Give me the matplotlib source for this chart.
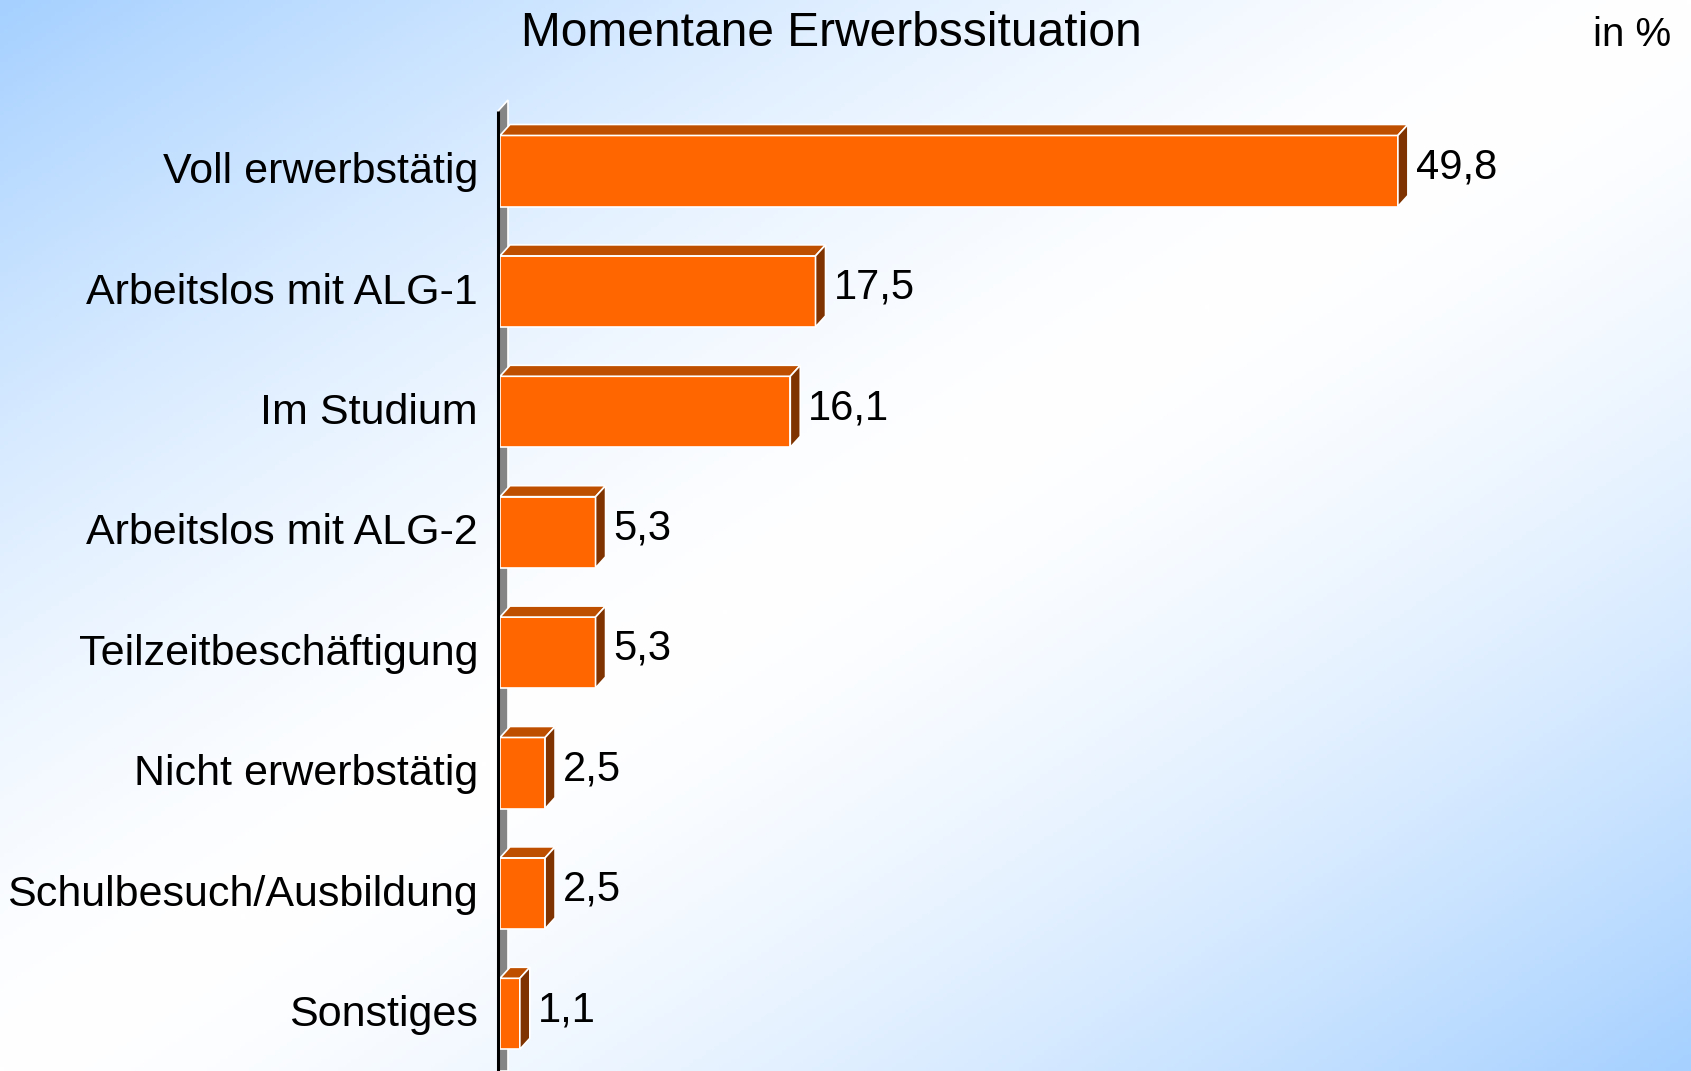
import numpy as np
import matplotlib.pyplot as plt
from matplotlib.patches import Polygon

# 데이터
categories = ["Voll erwerbstätig", "Arbeitslos mit ALG-1", "Im Studium", "Arbeitslos mit ALG-2",
              "Teilzeitbeschäftigung", "Nicht erwerbstätig", "Schulbesuch/Ausbildung", "Sonstiges"]
values = [49.8, 17.5, 16.1, 5.3, 5.3, 2.5, 2.5, 1.1]
title = "Momentane Erwerbssituation"
unit_label = "in %"

plt.rcParams['font.family'] = ['Liberation Sans', 'DejaVu Sans']

W, H = 1691, 1071
fig = plt.figure(figsize=(W / 100, H / 100), dpi=100)

# 배경 그라데이션 (왼쪽 위 / 오른쪽 아래는 파란색, 대각선은 흰색)
ax_bg = fig.add_axes([0, 0, 1, 1])
xx, yy = np.meshgrid(np.linspace(0, 1, 400), np.linspace(0, 1, 260))
t = np.abs(xx + yy - 1) ** 1.5
blue = np.array([165, 208, 255]) / 255
white = np.array([255, 255, 255]) / 255
img = white[None, None, :] * (1 - t[..., None]) + blue[None, None, :] * t[..., None]
ax_bg.imshow(img, aspect='auto', extent=[0, 1, 1, 0])
ax_bg.axis('off')

# 메인 축: x = 값, y = 카테고리 번호
px_per_unit = 18.03
x0_px = 500
row_px = 120.4
first_px = 171
ax = fig.add_axes([x0_px / W, 0, (W - x0_px) / W, 1])
ax.set_xlim(0, (W - x0_px) / px_per_unit)
ax.set_ylim((H - first_px) / row_px, -first_px / row_px)
ax.axis('off')
ax.patch.set_alpha(0)

dx = 10 / px_per_unit
dy = 11 / row_px
half = 0.295

# 뒤쪽 벽 (회색) + 검은 축선
wx = -2 / px_per_unit
wall_top = (111 - first_px) / row_px
ylo = (H - first_px) / row_px
wall = Polygon([(wx, ylo), (wx, wall_top), (wx + dx, wall_top - dy), (wx + dx, ylo)],
               closed=True, facecolor='#858585', edgecolor='white', lw=1.2, zorder=1, clip_on=False)
ax.add_patch(wall)
ax.plot([wx, wx], [wall_top, ylo], color='black', lw=2.2, zorder=2,
        solid_capstyle='butt', clip_on=False)

# 3D 막대
for i, (cat, v) in enumerate(zip(categories, values)):
    top, bot = i - half, i + half
    front = Polygon([(0, top), (v, top), (v, bot), (0, bot)], closed=True,
                    facecolor='#FF6600', edgecolor='white', lw=1.2, zorder=3)
    lid = Polygon([(0, top), (v, top), (v + dx, top - dy), (dx, top - dy)], closed=True,
                  facecolor='#BF4F00', edgecolor='white', lw=1.2, zorder=3)
    side = Polygon([(v, top), (v + dx, top - dy), (v + dx, bot - dy), (v, bot)], closed=True,
                   facecolor='#7F3300', edgecolor='white', lw=1.2, zorder=3)
    for p in (front, lid, side):
        ax.add_patch(p)

    # 값 라벨
    ax.text(v + 18 / px_per_unit, i - 0.03, f"{v:.1f}".replace('.', ','),
            ha='left', va='center', fontsize=30, color='black', zorder=4)
    # 카테고리 라벨
    ax.text(-22 / px_per_unit, i + 0.01, cat, ha='right', va='center', fontsize=31,
            color='black', clip_on=False, zorder=4)

fig.text(831 / W, 1 - 33 / H, title, ha='center', va='center', fontsize=34.5)
fig.text(1632 / W, 1 - 35 / H, unit_label, ha='center', va='center', fontsize=29)

fig.savefig("out.png", dpi=100)
